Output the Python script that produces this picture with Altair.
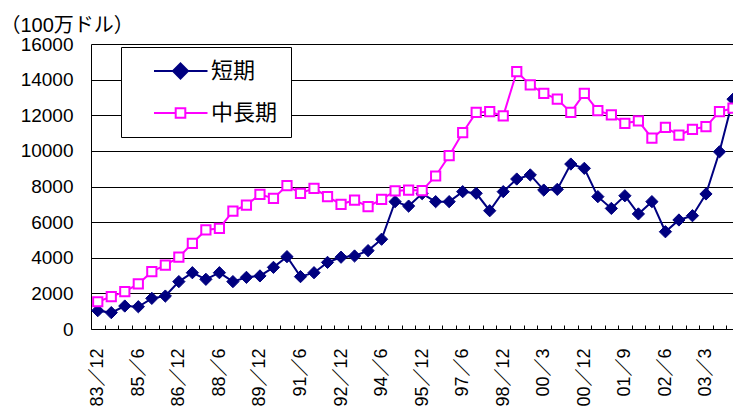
import json
import altair as alt
import pandas as pd

# ---- data -----------------------------------------------------------------
periods = [
    "83／12", "84／6", "84／12", "85／6", "85／12", "86／6", "86／12", "87／6",
    "87／12", "88／6", "88／12", "89／6", "89／12", "90／6", "90／12", "91／6",
    "91／12", "92／6", "92／12", "93／6", "93／12", "94／6", "94／12", "95／6",
    "95／12", "96／6", "96／12", "97／6", "97／12", "98／6", "98／12", "99／6",
    "99／12", "00／3", "00／6", "00／9", "00／12", "01／3", "01／6", "01／9",
    "01／12", "02／3", "02／6", "02／9", "02／12", "03／3", "03／6", "03／9",
]
short_term = [
    1030, 920, 1290, 1250, 1720, 1850, 2660, 3160,
    2790, 3160, 2660, 2900, 2980, 3460, 4060, 2940,
    3160, 3740, 4030, 4100, 4400, 5040, 7150, 6900,
    7600, 7150, 7150, 7710, 7620, 6640, 7710, 8420,
    8650, 7800, 7840, 9260, 9020, 7430, 6770, 7480,
    6460, 7150, 5460, 6120, 6360, 7580, 9950, 12900,
]
mid_long_term = [
    1530, 1820, 2100, 2530, 3220, 3590, 4030, 4810,
    5560, 5650, 6620, 6960, 7560, 7330, 8050, 7620,
    7900, 7430, 7000, 7240, 6870, 7280, 7750, 7800,
    7770, 8590, 9730, 11020, 12160, 12200, 11960, 14450,
    13700, 13230, 12910, 12160, 13230, 12260, 12020, 11550,
    11680, 10710, 11320, 10890, 11210, 11360, 12200, 12400,
]
series_names = ["短期", "中長期"]
series_colors = ["#000080", "#FF00FF"]
series_fills = ["#000080", "#FFFFFF"]
y_title = "（100万ドル）"
y_ticks = [0, 2000, 4000, 6000, 8000, 10000, 12000, 14000, 16000]
label_step = 3

# ---- table -----------------------------------------------------------------
n = len(periods)
rows = []
for i, p in enumerate(periods):
    rows.append({"idx": i, "period": p, "series": series_names[0], "value": short_term[i]})
    rows.append({"idx": i, "period": p, "series": series_names[1], "value": mid_long_term[i]})
df = pd.DataFrame(rows)

LATIN = "Liberation Sans, Arial, Noto Sans CJK JP"
CJK = "Noto Sans CJK JP, Liberation Sans"

x_scale = alt.Scale(domain=[-0.5, n - 1], nice=False, zero=False)
y_scale = alt.Scale(domain=[0, 16000], nice=False)

y_axis = alt.Axis(
    values=y_ticks, format="d", grid=True, gridColor="#000000", gridWidth=1,
    domain=True, domainColor="#000000", domainWidth=1, ticks=False,
    labelFont=LATIN, labelFontSize=19, labelColor="#000000", labelPadding=18,
    title=y_title, titleFont=LATIN, titleFontSize=20, titleFontWeight="normal",
    titleColor="#000000", titleAngle=0, titleAlign="left", titleBaseline="middle",
    titleX=-91, titleY=-19,
)

label_axis = alt.Axis(
    orient="bottom", values=list(range(0, n, label_step)),
    labelExpr=json.dumps(periods, ensure_ascii=False) + "[datum.value]",
    labelAngle=270, labelFont=LATIN, labelFontSize=18, labelColor="#000000",
    labelPadding=19, labelOverlap=False, labelFlush=False, labelBound=False,
    domain=True, domainColor="#000000", domainWidth=1, ticks=False, grid=False,
    title=None,
)
tick_axis = alt.Axis(
    orient="bottom", values=[i + 0.5 for i in range(n - 1)],
    labels=False, domain=False, ticks=True, tickSize=4, tickColor="#000000",
    tickWidth=1, offset=-4, grid=False, title=None,
)

base = alt.Chart(df)


def xenc(axis):
    return alt.X("idx:Q", scale=x_scale, axis=axis)


yenc = alt.Y("value:Q", scale=y_scale, axis=y_axis)

short_df = base.transform_filter(alt.datum.series == series_names[0])
mid_df = base.transform_filter(alt.datum.series == series_names[1])

line_short = short_df.mark_line(color=series_colors[0], strokeWidth=2).encode(
    x=xenc(label_axis), y=yenc, order="idx:Q")
line_mid = mid_df.mark_line(color=series_colors[1], strokeWidth=2).encode(
    x=xenc(tick_axis), y=yenc, order="idx:Q")
pts_short = short_df.mark_point(
    shape="diamond", filled=True, size=150, fill=series_fills[0],
    stroke=series_colors[0], strokeWidth=1, opacity=1).encode(x=xenc(None), y=yenc)
pts_mid = mid_df.mark_point(
    shape="square", filled=True, size=85, fill=series_fills[1],
    stroke=series_colors[1], strokeWidth=2, opacity=1).encode(x=xenc(None), y=yenc)

# legend symbols: line with marker (units = 10 px)
sym_short = "M0.9,0H6.25M3.55,-0.75L4.3,0L3.55,0.75L2.8,0Z"
sym_mid = "M0.9,0H3.07M4.03,0H6.25M3.07,-0.48H4.03V0.48H3.07Z"

legend = alt.Legend(
    orient="none", legendX=30, legendY=3, title=None,
    padding=13, fillColor="#FFFFFF", strokeColor="#000000",
    symbolSize=400, symbolStrokeWidth=2, symbolOpacity=1,
    labelFont=CJK, labelFontSize=22, labelColor="#000000",
    labelOffset=55, rowPadding=19, labelExpr="datum.label + '\u3000'",
)
legend_layer = base.transform_filter(alt.datum.idx < 0).mark_point(
    filled=True, opacity=1).encode(
    x=xenc(None), y=yenc,
    fill=alt.Fill("series:N", scale=alt.Scale(domain=series_names, range=series_fills), legend=legend),
    stroke=alt.Stroke("series:N", scale=alt.Scale(domain=series_names, range=series_colors), legend=legend),
    shape=alt.Shape("series:N", scale=alt.Scale(domain=series_names, range=[sym_short, sym_mid]), legend=legend),
)

chart = alt.layer(
    line_short, line_mid, pts_short, pts_mid, legend_layer
).resolve_axis(x="independent").properties(
    width=642, height=285,
    autosize=alt.AutoSizeParams(type="none"),
    padding={"left": 91, "top": 44, "right": 0, "bottom": 77},
    background="#FFFFFF",
).configure_view(stroke=None)

chart.save("out.html", embed_options={"renderer": "svg", "actions": False})
